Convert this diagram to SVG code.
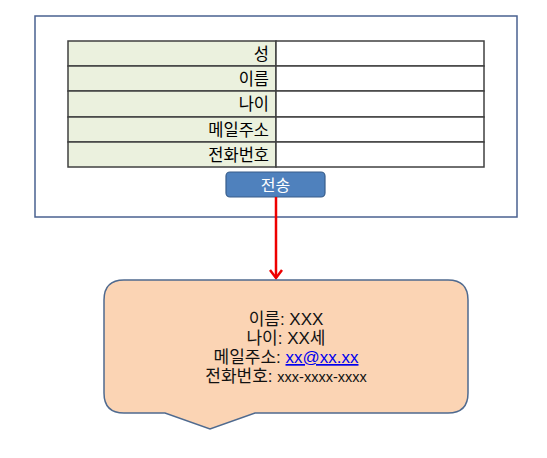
<svg xmlns="http://www.w3.org/2000/svg" width="547" height="458" viewBox="0 0 547 458">
<style>
text{font-family:"Liberation Sans","Noto Sans CJK KR",sans-serif;}
.lab{fill:#EBF1DE;stroke:#404040;stroke-width:1.5;}
.val{fill:#FFFFFF;stroke:#404040;stroke-width:1.5;}
.lt{font-size:16.5px;fill:#000;text-anchor:end;}
.ct{font-size:17px;fill:#111;text-anchor:middle;}
</style>
<defs>
<marker id="ah" markerWidth="14" markerHeight="14" refX="11" refY="7" orient="auto" markerUnits="userSpaceOnUse" viewBox="0 0 14 14">
<path d="M3,1 L11,7 L3,13" fill="none" stroke="#EE0000" stroke-width="2.5"/>
</marker>
</defs>
<g id="frame"><rect x="35" y="16" width="482" height="201" fill="#FFFFFF" stroke="#4A6190" stroke-width="1.5"/></g>
<g id="form">
<rect class="lab" x="68" y="41" width="208" height="25"/><rect class="val" x="276" y="41" width="208" height="25"/>
<rect class="lab" x="68" y="66" width="208" height="25"/><rect class="val" x="276" y="66" width="208" height="25"/>
<rect class="lab" x="68" y="91" width="208" height="26"/><rect class="val" x="276" y="91" width="208" height="26"/>
<rect class="lab" x="68" y="117" width="208" height="25"/><rect class="val" x="276" y="117" width="208" height="25"/>
<rect class="lab" x="68" y="142" width="208" height="25"/><rect class="val" x="276" y="142" width="208" height="25"/>
<text class="lt" x="269" y="59.5">성</text>
<text class="lt" x="269" y="84.5">이름</text>
<text class="lt" x="269" y="110">나이</text>
<text class="lt" x="269" y="135.5">메일주소</text>
<text class="lt" x="269" y="160.5">전화번호</text>
</g>
<g id="button">
<rect x="226" y="172" width="99" height="25" rx="4" fill="#4F81BD" stroke="#385D8A" stroke-width="1.2"/>
<text x="275.5" y="190.5" font-size="16" fill="#FFFFFF" text-anchor="middle">전송</text>
</g>
<g id="connectors">
<line x1="276" y1="197" x2="276" y2="278" stroke="#EE0000" stroke-width="2.5" marker-end="url(#ah)"/>
</g>
<g id="callout">
<path d="M124,280 L448,280 Q468,280 468,300 L468,393 Q468,413 448,413 L255,413 L210,429 L165,413 L124,413 Q104,413 104,393 L104,300 Q104,280 124,280 Z" fill="#FBD4B4" stroke="#4F6A8F" stroke-width="1.5"/>
<text class="ct" x="286" y="325">이름: XXX</text>
<text class="ct" x="286" y="344">나이: XX세</text>
<text class="ct" x="286" y="363">메일주소: <tspan fill="#0000EE" text-decoration="underline">xx@xx.xx</tspan></text>
<text class="ct" x="286" y="382">전화번호: <tspan font-size="14.5">xxx-xxxx-xxxx</tspan></text>
</g>
</svg>
